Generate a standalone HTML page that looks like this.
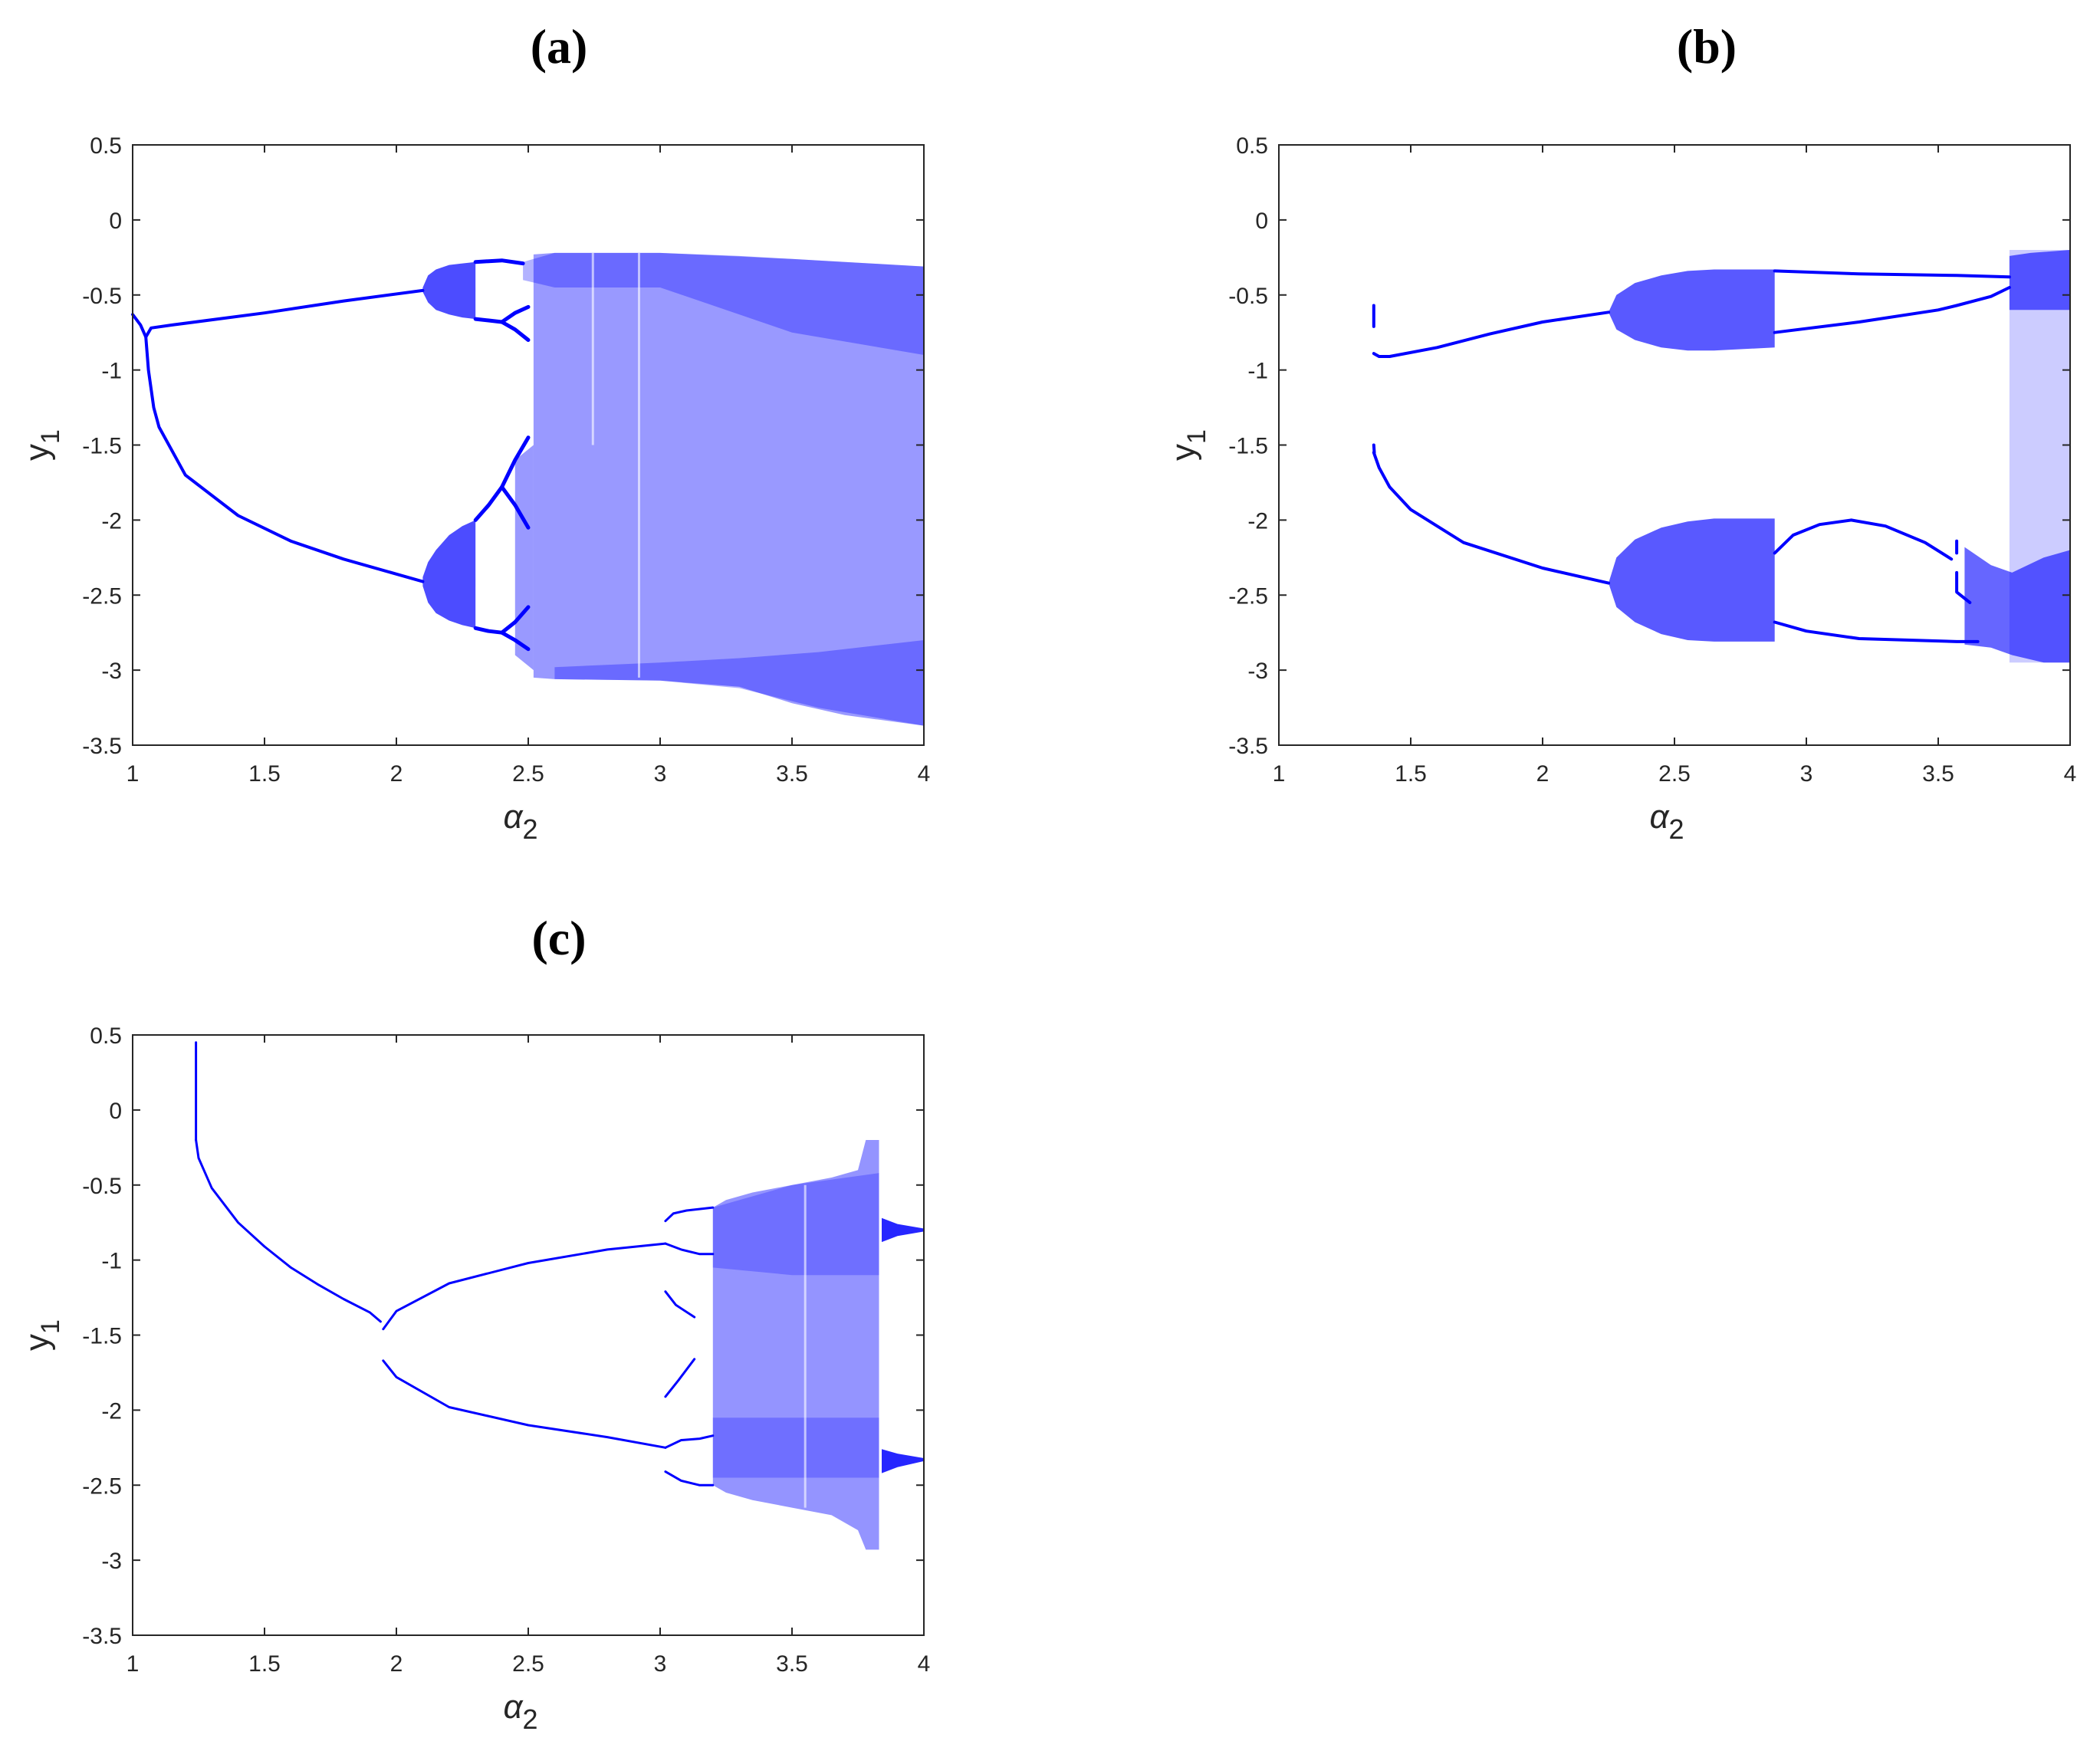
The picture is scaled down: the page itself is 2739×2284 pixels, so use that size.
<!DOCTYPE html>
<html>
<head>
<meta charset="utf-8">
<style>
html,body{margin:0;padding:0;background:#fff;}
svg{display:block;}
text{font-family:"Liberation Sans",sans-serif;fill:#262626;}
.title{font-family:"Liberation Serif",serif;font-weight:bold;font-size:64px;fill:#000;}
</style>
</head>
<body>
<svg id="fig" width="2739" height="2284" viewBox="0 0 2739 2284" xmlns="http://www.w3.org/2000/svg">
  <text class="title" x="729" y="82" text-anchor="middle">(a)</text>
  <text class="title" x="2226" y="82" text-anchor="middle">(b)</text>
  <text class="title" x="729" y="1245" text-anchor="middle">(c)</text>
</svg>
<script>
// ---- axis ticks ----
const xTicks = [1, 1.5, 2, 2.5, 3, 3.5, 4];
const xTickLabels = ["1", "1.5", "2", "2.5", "3", "3.5", "4"];
const yTicks = [0.5, 0, -0.5, -1, -1.5, -2, -2.5, -3, -3.5];
const yTickLabels = ["0.5", "0", "-0.5", "-1", "-1.5", "-2", "-2.5", "-3", "-3.5"];

// ---- panel (a) data ----
const aCurveUp = [[1.0,-0.63],[1.03,-0.70],[1.05,-0.78],[1.07,-0.72],[1.15,-0.70],[1.5,-0.62],[1.8,-0.54],[2.1,-0.47]];
const aCurveLow = [[1.05,-0.78],[1.06,-1.0],[1.08,-1.25],[1.1,-1.38],[1.2,-1.7],[1.4,-1.97],[1.6,-2.14],[1.8,-2.26],[2.0,-2.36],[2.1,-2.41]];
const aBranch1 = [[2.3,-0.28],[2.4,-0.27],[2.48,-0.29]];
const aBranch2 = [[2.3,-0.66],[2.35,-0.67],[2.4,-0.68],[2.45,-0.62],[2.5,-0.58]];
const aBranch3 = [[2.4,-0.68],[2.45,-0.73],[2.5,-0.80]];
const aBranch4 = [[2.3,-2.0],[2.35,-1.9],[2.4,-1.78],[2.45,-1.6],[2.5,-1.45]];
const aBranch5 = [[2.4,-1.78],[2.45,-1.9],[2.5,-2.05]];
const aBranch6 = [[2.3,-2.72],[2.35,-2.74],[2.4,-2.75],[2.45,-2.68],[2.5,-2.58]];
const aBranch7 = [[2.4,-2.75],[2.45,-2.80],[2.5,-2.86]];
const aBlobX = [2.1, 2.12, 2.15, 2.2, 2.25, 2.3];
const aBlobUpTop = [-0.45, -0.37, -0.33, -0.30, -0.29, -0.28];
const aBlobUpBot = [-0.48, -0.55, -0.60, -0.63, -0.65, -0.66];
const aBlobLowTop = [-2.38, -2.28, -2.2, -2.1, -2.04, -2.0];
const aBlobLowBot = [-2.44, -2.55, -2.62, -2.67, -2.70, -2.72];
const aChaosX = [2.52, 2.6, 3.0, 3.3, 3.5, 3.7, 4.0];
const aChaosTop = [-0.23, -0.22, -0.22, -0.24, -0.26, -0.28, -0.31];
const aChaosBot = [-3.05, -3.06, -3.07, -3.11, -3.22, -3.30, -3.37];
const aDenseX = [2.48, 2.6, 3.0, 3.5, 4.0];
const aDenseTop = [-0.28, -0.22, -0.22, -0.26, -0.31];
const aDenseBot = [-0.40, -0.45, -0.45, -0.75, -0.90];
const aDense2X = [2.6, 3.0, 3.3, 3.6, 4.0];
const aDense2Top = [-2.98, -2.95, -2.92, -2.88, -2.8];
const aDense2Bot = [-3.06, -3.07, -3.12, -3.25, -3.37];
const aEdgeX = [2.45, 2.52];
const aEdgeTop = [-1.6, -1.5];
const aEdgeBot = [-2.9, -3.0];
const aGaps = [2.745, 2.92];

// ---- panel (b) data ----
const bStub1 = [[1.36,-0.57],[1.36,-0.71]];
const bStub2 = [[1.36,-1.50],[1.362,-1.55]];
const bCurveUp = [[1.36,-0.89],[1.38,-0.91],[1.42,-0.91],[1.6,-0.85],[1.8,-0.76],[2.0,-0.68],[2.25,-0.615]];
const bCurveLow = [[1.36,-1.55],[1.38,-1.65],[1.42,-1.78],[1.5,-1.93],[1.7,-2.15],[2.0,-2.32],[2.25,-2.42]];
const bBlobX = [2.25, 2.28, 2.35, 2.45, 2.55, 2.65, 2.88];
const bBlobUpTop = [-0.615, -0.5, -0.42, -0.37, -0.34, -0.33, -0.33];
const bBlobUpBot = [-0.615, -0.73, -0.8, -0.85, -0.87, -0.87, -0.85];
const bBlobLowTop = [-2.42, -2.25, -2.13, -2.05, -2.01, -1.99, -1.99];
const bBlobLowBot = [-2.42, -2.58, -2.68, -2.76, -2.8, -2.81, -2.81];
const bBranch1 = [[2.88,-0.34],[3.2,-0.36],[3.57,-0.37],[3.77,-0.38]];
const bBranch2 = [[2.88,-0.75],[3.2,-0.68],[3.5,-0.6],[3.57,-0.57],[3.7,-0.51],[3.77,-0.45]];
const bArch = [[2.88,-2.22],[2.95,-2.1],[3.05,-2.03],[3.17,-2.0],[3.3,-2.04],[3.45,-2.15],[3.55,-2.26]];
const bBranch3 = [[2.88,-2.68],[3.0,-2.74],[3.2,-2.79],[3.57,-2.81],[3.65,-2.81]];
const bStub3 = [[3.57,-2.14],[3.57,-2.22]];
const bStub4 = [[3.57,-2.35],[3.57,-2.48],[3.62,-2.55]];
const bSparseX = [3.77, 4.0];
const bSparseTop = [-0.2, -0.2];
const bSparseBot = [-2.95, -2.95];
const bDenseUpX = [3.77, 3.85, 4.0];
const bDenseUpTop = [-0.24, -0.22, -0.2];
const bDenseUpBot = [-0.6, -0.6, -0.6];
const bDenseLowX = [3.6, 3.7, 3.78, 3.9, 4.0];
const bDenseLowTop = [-2.18, -2.3, -2.35, -2.25, -2.2];
const bDenseLowBot = [-2.83, -2.85, -2.9, -2.95, -2.95];

// ---- panel (c) data ----
const cVert = [[1.24,0.45],[1.24,-0.2]];
const cCurve = [[1.24,-0.2],[1.25,-0.32],[1.3,-0.52],[1.4,-0.75],[1.5,-0.91],[1.6,-1.05],[1.7,-1.16],[1.8,-1.26],[1.9,-1.35],[1.94,-1.41]];
const cCurveUp = [[1.95,-1.46],[2.0,-1.34],[2.2,-1.155],[2.5,-1.02],[2.8,-0.93],[3.02,-0.89]];
const cCurveLow = [[1.95,-1.67],[2.0,-1.78],[2.2,-1.98],[2.5,-2.1],[2.8,-2.18],[3.02,-2.25]];
const cBranch1 = [[3.02,-0.74],[3.05,-0.69],[3.1,-0.67],[3.2,-0.65]];
const cBranch2 = [[3.02,-0.89],[3.08,-0.93],[3.15,-0.96],[3.2,-0.96]];
const cBranch3 = [[3.02,-2.25],[3.08,-2.2],[3.15,-2.19],[3.2,-2.17]];
const cBranch4 = [[3.02,-2.41],[3.08,-2.47],[3.15,-2.5],[3.2,-2.5]];
const cArc1 = [[3.02,-1.21],[3.06,-1.3],[3.13,-1.38]];
const cArc2 = [[3.02,-1.91],[3.07,-1.8],[3.13,-1.66]];
const cChaosX = [3.2, 3.25, 3.35, 3.5, 3.65, 3.75, 3.78, 3.83];
const cChaosTop = [-0.65, -0.6, -0.55, -0.5, -0.45, -0.4, -0.2, -0.2];
const cChaosBot = [-2.5, -2.55, -2.6, -2.65, -2.7, -2.8, -2.93, -2.93];
const cDense1X = [3.2, 3.5, 3.83];
const cDense1Top = [-0.65, -0.5, -0.42];
const cDense1Bot = [-1.05, -1.1, -1.1];
const cDense2X = [3.2, 3.5, 3.83];
const cDense2Top = [-2.05, -2.05, -2.05];
const cDense2Bot = [-2.45, -2.45, -2.45];
const cTailX = [3.84, 3.9, 4.0];
const cTail1Top = [-0.72, -0.76, -0.79];
const cTail1Bot = [-0.88, -0.84, -0.81];
const cTail2Top = [-2.26, -2.29, -2.32];
const cTail2Bot = [-2.42, -2.38, -2.34];
const cGaps = [3.55];

const NS = "http://www.w3.org/2000/svg";
const svg = document.getElementById("fig");
const BLUE = "#0000ff";

function makePanel(id, x0, x1, y0, y1) {
  const p = {x0, x1, y0, y1};
  p.sx = a => x0 + (a - 1) / 3 * (x1 - x0);
  p.sy = y => y0 + (0.5 - y) / 4 * (y1 - y0);
  const g = document.createElementNS(NS, "g");
  
  
  svg.appendChild(g);
  p.g = g;
  const marks = document.createElementNS(NS, "g");
  
  
  g.appendChild(marks);
  p.marks = marks;
  return p;
}

function line(p, pts, w, name) {
  const el = document.createElementNS(NS, "polyline");
  el.setAttribute("points", pts.map(d => p.sx(d[0]).toFixed(1) + "," + p.sy(d[1]).toFixed(1)).join(" "));
  el.setAttribute("fill", "none");
  el.setAttribute("stroke", BLUE);
  el.setAttribute("stroke-width", w);
  el.setAttribute("stroke-linejoin", "round");
  el.setAttribute("stroke-linecap", "round");
  
  
  p.marks.appendChild(el);
}

function band(p, xs, top, bot, op, name) {
  const pts = [];
  xs.forEach((a, i) => pts.push(p.sx(a).toFixed(1) + "," + p.sy(top[i]).toFixed(1)));
  for (let i = xs.length - 1; i >= 0; i--) pts.push(p.sx(xs[i]).toFixed(1) + "," + p.sy(bot[i]).toFixed(1));
  const el = document.createElementNS(NS, "polygon");
  el.setAttribute("points", pts.join(" "));
  el.setAttribute("fill", BLUE);
  el.setAttribute("fill-opacity", op);
  el.setAttribute("stroke", "none");
  
  
  p.marks.appendChild(el);
}

function gap(p, a, yt, yb, name) {
  const el = document.createElementNS(NS, "line");
  el.setAttribute("x1", p.sx(a)); el.setAttribute("x2", p.sx(a));
  el.setAttribute("y1", p.sy(yt)); el.setAttribute("y2", p.sy(yb));
  el.setAttribute("stroke", "#fff");
  el.setAttribute("stroke-opacity", 0.6);
  el.setAttribute("stroke-width", 3);
  
  
  p.marks.appendChild(el);
}

function axes(p, id) {
  const g = p.g;
  const box = document.createElementNS(NS, "rect");
  box.setAttribute("x", p.x0); box.setAttribute("y", p.y0);
  box.setAttribute("width", p.x1 - p.x0); box.setAttribute("height", p.y1 - p.y0);
  box.setAttribute("fill", "none"); box.setAttribute("stroke", "#262626"); box.setAttribute("stroke-width", 2);
  
  
  g.appendChild(box);
  const L = 10;
  xTicks.forEach((t, i) => {
    const x = p.sx(t);
    [[p.y1, p.y1 - L], [p.y0, p.y0 + L]].forEach(yy => {
      const tk = document.createElementNS(NS, "line");
      tk.setAttribute("x1", x); tk.setAttribute("x2", x);
      tk.setAttribute("y1", yy[0]); tk.setAttribute("y2", yy[1]);
      tk.setAttribute("stroke", "#262626"); tk.setAttribute("stroke-width", 2);
      
      
      g.appendChild(tk);
    });
    const tx = document.createElementNS(NS, "text");
    tx.setAttribute("x", x); tx.setAttribute("y", p.y1 + 47);
    tx.setAttribute("text-anchor", "middle"); tx.setAttribute("font-size", 30);
    tx.textContent = xTickLabels[i];
    
    
    g.appendChild(tx);
  });
  yTicks.forEach((t, i) => {
    const y = p.sy(t);
    [[p.x0, p.x0 + L], [p.x1, p.x1 - L]].forEach(xx => {
      const tk = document.createElementNS(NS, "line");
      tk.setAttribute("x1", xx[0]); tk.setAttribute("x2", xx[1]);
      tk.setAttribute("y1", y); tk.setAttribute("y2", y);
      tk.setAttribute("stroke", "#262626"); tk.setAttribute("stroke-width", 2);
      
      
      g.appendChild(tk);
    });
    const tx = document.createElementNS(NS, "text");
    tx.setAttribute("x", p.x0 - 14); tx.setAttribute("y", y + 11);
    tx.setAttribute("text-anchor", "end"); tx.setAttribute("font-size", 30);
    tx.textContent = yTickLabels[i];
    
    
    g.appendChild(tx);
  });
  const xl = document.createElementNS(NS, "text");
  xl.setAttribute("x", (p.x0 + p.x1) / 2 - 10); xl.setAttribute("y", p.y1 + 108);
  xl.setAttribute("text-anchor", "middle"); xl.setAttribute("font-size", 44);
  xl.setAttribute("font-family", "DejaVu Serif, serif");
  xl.setAttribute("font-style", "italic");
  xl.innerHTML = 'α<tspan dy="14" font-size="36" font-style="normal" font-family="Liberation Sans, sans-serif">2</tspan>';
  
  
  g.appendChild(xl);
  const yl = document.createElementNS(NS, "text");
  const cx = p.x0 - 110, cy = (p.y0 + p.y1) / 2;
  yl.setAttribute("x", cx); yl.setAttribute("y", cy);
  yl.setAttribute("transform", "rotate(-90 " + cx + " " + cy + ")");
  yl.setAttribute("text-anchor", "middle"); yl.setAttribute("font-size", 44);
  yl.innerHTML = 'y<tspan dy="14" font-size="34">1</tspan>';
  
  
  g.appendChild(yl);
}

// ---- Panel A ----
const pa = makePanel("panel-a", 173, 1205, 189, 972);
band(pa, aChaosX, aChaosTop, aChaosBot, 0.4, "a-chaos-region");
band(pa, aEdgeX, aEdgeTop, aEdgeBot, 0.4, "a-chaos-edge");
band(pa, aDenseX, aDenseTop, aDenseBot, 0.3, "a-dense-upper-band");
band(pa, aDense2X, aDense2Top, aDense2Bot, 0.3, "a-dense-lower-band");
band(pa, aBlobX, aBlobUpTop, aBlobUpBot, 0.7, "a-upper-blob");
band(pa, aBlobX, aBlobLowTop, aBlobLowBot, 0.7, "a-lower-blob");
line(pa, aCurveUp, 4, "a-upper-branch");
line(pa, aCurveLow, 4, "a-lower-branch");
[aBranch1, aBranch2, aBranch3, aBranch4, aBranch5, aBranch6, aBranch7].forEach(b => line(pa, b, 5, "a-period-branch"));
gap(pa, aGaps[0], -0.22, -1.5, "a-window-gap");
gap(pa, aGaps[1], -0.22, -3.05, "a-window-gap");
axes(pa, "panel-a");

// ---- Panel B ----
const pb = makePanel("panel-b", 1668, 2700, 189, 972);
band(pb, bSparseX, bSparseTop, bSparseBot, 0.2, "b-sparse-chaos");
band(pb, bDenseUpX, bDenseUpTop, bDenseUpBot, 0.6, "b-dense-upper");
band(pb, bDenseLowX, bDenseLowTop, bDenseLowBot, 0.6, "b-dense-lower");
band(pb, bBlobX, bBlobUpTop, bBlobUpBot, 0.65, "b-upper-blob");
band(pb, bBlobX, bBlobLowTop, bBlobLowBot, 0.65, "b-lower-blob");
line(pb, bStub1, 4, "b-stub");
line(pb, bStub2, 4, "b-stub");
line(pb, bCurveUp, 4, "b-upper-branch");
line(pb, bCurveLow, 4, "b-lower-branch");
[bBranch1, bBranch2, bArch, bBranch3, bStub3, bStub4].forEach(b => line(pb, b, 4, "b-branch"));
axes(pb, "panel-b");

// ---- Panel C ----
const pc = makePanel("panel-c", 173, 1205, 1350, 2133);
band(pc, cChaosX, cChaosTop, cChaosBot, 0.42, "c-chaos-region");
band(pc, cDense1X, cDense1Top, cDense1Bot, 0.25, "c-dense-upper");
band(pc, cDense2X, cDense2Top, cDense2Bot, 0.25, "c-dense-lower");
band(pc, cTailX, cTail1Top, cTail1Bot, 0.85, "c-tail-upper");
band(pc, cTailX, cTail2Top, cTail2Bot, 0.85, "c-tail-lower");
line(pc, cVert, 3, "c-vertical-segment");
line(pc, cCurve, 3, "c-initial-branch");
line(pc, cCurveUp, 3, "c-upper-branch");
line(pc, cCurveLow, 3, "c-lower-branch");
[cBranch1, cBranch2, cBranch3, cBranch4, cArc1, cArc2].forEach(b => line(pc, b, 3, "c-branch"));
gap(pc, cGaps[0], -0.5, -2.65, "c-window-gap");
axes(pc, "panel-c");
</script>
</body>
</html>
